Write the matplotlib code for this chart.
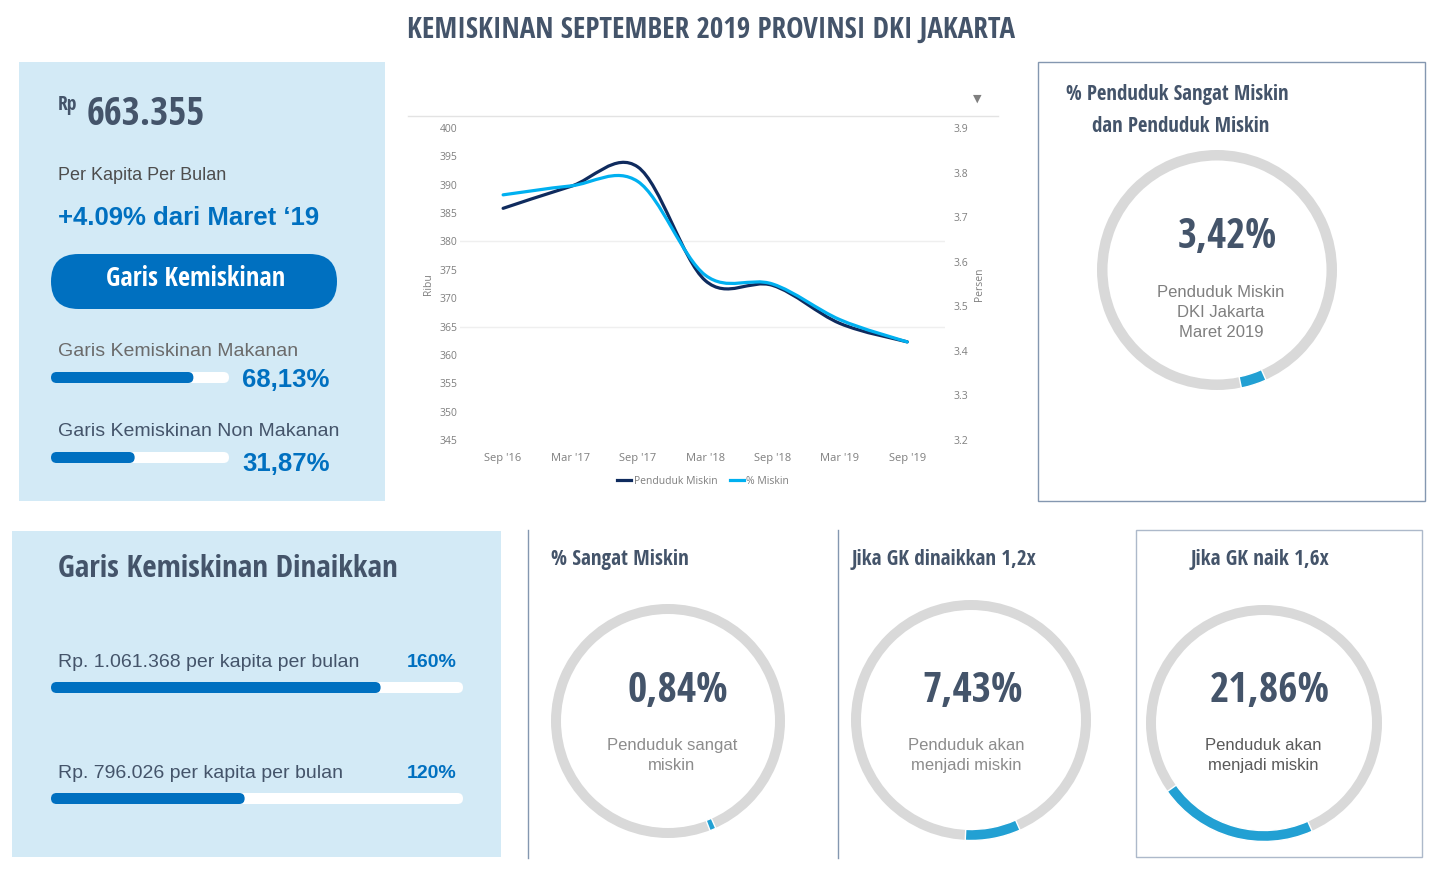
import numpy as np
import matplotlib
matplotlib.use("Agg")
import matplotlib.pyplot as plt
from matplotlib.patches import Rectangle, FancyBboxPatch, Wedge, PathPatch
from matplotlib.path import Path
from matplotlib.lines import Line2D
from matplotlib import font_manager

# ---- data ----
periode = ["Sep '16", "Mar '17", "Sep '17", "Mar '18", "Sep '18", "Mar '19", "Sep '19"]
penduduk_miskin = [385.84, 389.69, 393.13, 373.12, 372.26, 365.55, 362.30]   # ribu
persen_miskin = [3.75, 3.77, 3.78, 3.57, 3.55, 3.47, 3.42]

garis_kemiskinan = "663.355"
perubahan = "+4.09% dari Maret \u201819"

komponen_label = ["Garis Kemiskinan Makanan", "Garis Kemiskinan Non Makanan"]
komponen_persen = [68.13, 31.87]
komponen_isi = [0.80, 0.47]

dinaikkan_label = ["Rp. 1.061.368 per kapita per bulan", "Rp. 796.026 per kapita per bulan"]
dinaikkan_persen = [160, 120]
dinaikkan_isi = [0.80, 0.47]

ring_judul = ["% Sangat Miskin", "Jika GK dinaikkan 1,2x", "Jika GK naik 1,6x"]
ring_nilai = [3.42, 0.84, 7.43, 21.86]
ring_teks = [["Penduduk Miskin", "DKI Jakarta", "Maret 2019"],
             ["Penduduk sangat", "miskin"],
             ["Penduduk akan", "menjadi miskin"],
             ["Penduduk akan", "menjadi miskin"]]

# ---- style ----
W, H = 1446, 872
DARK = "#44546a"
BLUE = "#0070c0"
PANEL = "#d3eaf6"
RING_GRAY = "#d9d9d9"
RING_BLUE = "#22a0d3"
NAVY = "#0f2b5e"
CYAN = "#00b0f0"

names = {f.name for f in font_manager.fontManager.ttflist}
NARROW = dict(family="DejaVu Sans", stretch="condensed")
for nm in ["Open Sans Condensed", "Roboto Condensed", "IBM Plex Sans Condensed"]:
    if nm in names:
        NARROW = dict(family=nm)
        break
plt.rcParams["font.family"] = ["Liberation Sans", "DejaVu Sans"]


def fmt(v):
    return f"{v:.2f}".replace(".", ",") + "%"


fig = plt.figure(figsize=(W / 100, H / 100), dpi=100)
bg = fig.add_axes([0, 0, 1, 1])
bg.set_xlim(0, W)
bg.set_ylim(H, 0)
bg.axis("off")


def teks(x, y, s, size, color=DARK, weight="normal", ha="left", narrow=False, **kw):
    opts = dict(NARROW) if narrow else {}
    bg.text(x, y, s, fontsize=size, color=color, fontweight=weight, ha=ha,
            va="baseline", **opts, **kw)


def batang(x0, y0, w, h, isi):
    gaya = f"round,pad=0,rounding_size={h / 2}"
    bg.add_patch(FancyBboxPatch((x0, y0), w, h, boxstyle=gaya, fc="white", ec="none"))
    bg.add_patch(FancyBboxPatch((x0, y0), w * isi, h, boxstyle=gaya, fc=BLUE, ec="none"))


def cincin(cx, cy, r, w, nilai):
    bg.add_patch(Wedge((cx, cy), r, 0, 360, width=w, fc=RING_GRAY, ec="none"))
    a0 = 66
    bg.add_patch(Wedge((cx, cy), r + 0.5, a0, a0 + nilai * 3.6, width=w + 1,
                       fc=RING_BLUE, ec="white", lw=1))


# ---- title ----
teks(711, 38, "KEMISKINAN SEPTEMBER 2019 PROVINSI DKI JAKARTA", 21, weight="bold",
     ha="center", narrow=True)

# ---- top left panel ----
bg.add_patch(Rectangle((19, 62), 366, 439, fc=PANEL, ec="none"))
teks(58, 110, "Rp", 14, weight="bold", narrow=True)
teks(87, 125, garis_kemiskinan, 28, weight="bold", narrow=True)
teks(58, 180, "Per Kapita Per Bulan", 13, color="#4d4d4d")
teks(58, 225, perubahan, 18.5, color=BLUE, weight="bold")
bg.add_patch(FancyBboxPatch((51, 254), 286, 55, boxstyle="round,pad=0,rounding_size=27.5",
                            fc=BLUE, ec="none"))
teks(196, 286, "Garis Kemiskinan", 19, color="white", weight="bold", ha="center", narrow=True)

label_y = [356, 436]
bar_y = [372, 452]
val_y = [387, 471]
warna_label = ["#6b6b6b", DARK]
for i in range(2):
    teks(58, label_y[i], komponen_label[i], 14, color=warna_label[i])
    batang(51, bar_y[i], 178, 11, komponen_isi[i])
    teks(242, val_y[i], fmt(komponen_persen[i]), 18.5, color=BLUE, weight="bold")

# ---- bottom left panel ----
bg.add_patch(Rectangle((12, 531), 489, 326, fc=PANEL, ec="none"))
teks(58, 577, "Garis Kemiskinan Dinaikkan", 22.3, weight="bold", narrow=True)
label_y = [667, 778]
bar_y = [682, 793]
for i in range(2):
    teks(58, label_y[i], dinaikkan_label[i], 14)
    teks(457, label_y[i], f"{dinaikkan_persen[i]}%", 14, color=BLUE, weight="bold", ha="right")
    batang(51, bar_y[i], 412, 11, dinaikkan_isi[i])

# ---- top right panel ----
bg.add_patch(Rectangle((1038, 62), 387, 439, fc="none", ec="#8497b0", lw=1))
teks(1177, 100, "% Penduduk Sangat Miskin", 15, weight="bold", ha="center", narrow=True)
teks(1181, 132, "dan Penduduk Miskin", 15, weight="bold", ha="center", narrow=True)
cincin(1217, 270, 120, 10.5, ring_nilai[0])
teks(1227, 248, fmt(ring_nilai[0]), 29.5, weight="bold", ha="center", narrow=True)
for j, s in enumerate(ring_teks[0]):
    teks(1221, 297 + 20 * j, s, 12, color="#7f7f7f", ha="center")

# ---- bottom ring panels ----
bg.plot([528, 528], [530, 858], color="#8497b0", lw=1)
bg.plot([838, 838], [530, 858], color="#8497b0", lw=1)
bg.add_patch(Rectangle((1136, 530), 286, 327, fc="none", ec="#adb9ca", lw=1))

judul_x = [551, 852, 1260]
judul_ha = ["left", "left", "center"]
pusat = [(668, 721, 117), (971, 720, 120), (1264, 723, 118)]
angka_x = [678, 973, 1270]
sub_x = [672, 966, 1263]
sub_warna = ["#8c8c8c", "#8c8c8c", "#595959"]
for k in range(3):
    teks(judul_x[k], 565, ring_judul[k], 15.2, weight="bold", ha=judul_ha[k], narrow=True)
    cx, cy, r = pusat[k]
    cincin(cx, cy, r, 10, ring_nilai[k + 1])
    teks(angka_x[k], 702, fmt(ring_nilai[k + 1]), 30, weight="bold", ha="center", narrow=True)
    for j, s in enumerate(ring_teks[k + 1]):
        teks(sub_x[k], 750 + 20 * j, s, 12, color=sub_warna[k], ha="center")

# ---- line chart ----
bg.plot([408, 998], [116, 116], color="#e3e3e3", lw=1)
bg.text(977, 99, "\u25bc", fontsize=8, color="#7f7f7f", ha="center", va="center",
        family="DejaVu Sans")

ax = fig.add_axes([460 / W, 1 - 440 / H, 485 / W, 312 / H])
ax.set_facecolor("none")
ax2 = ax.twinx()
for a in (ax, ax2):
    for sp in a.spines.values():
        sp.set_visible(False)
    a.tick_params(length=0, labelsize=7.5, labelcolor="#7f7f7f")

x = np.arange(len(periode))
ax.set_xlim(-0.64, 6.56)
ax.set_ylim(345, 400)
ax.set_yticks(np.arange(345, 401, 5))
ax2.set_ylim(3.2, 3.9)
ax2.set_yticks(np.arange(3.2, 3.91, 0.1))
ax2.set_yticklabels([f"{v:.1f}" for v in np.arange(3.2, 3.91, 0.1)])
ax.set_xticks(x)
ax.set_xticklabels(periode, fontsize=8, family="Open Sans")
ax.tick_params(axis="x", pad=9)
ax.tick_params(axis="y", pad=2)
ax2.tick_params(axis="y", pad=6)
for lab in ax.get_yticklabels() + ax2.get_yticklabels():
    lab.set_family("Open Sans")
ax.set_ylabel("Ribu", fontsize=7.5, color="#7f7f7f", family="Open Sans", labelpad=4)
ax2.set_ylabel("Persen", fontsize=7.5, color="#7f7f7f", family="Open Sans", labelpad=4)
for g in (380, 365):
    ax.axhline(g, color="#efefef", lw=1, zorder=0)


def kurva(xs, ys):
    xs = np.asarray(xs, float)
    ys = np.asarray(ys, float)
    n = len(xs)
    verts = [(xs[0], ys[0])]
    codes = [Path.MOVETO]
    for i in range(n - 1):
        xa, ya = (xs[i - 1], ys[i - 1]) if i > 0 else (xs[i], ys[i])
        xb, yb = (xs[i + 2], ys[i + 2]) if i + 2 < n else (xs[i + 1], ys[i + 1])
        c1 = (xs[i] + (xs[i + 1] - xa) / 6, ys[i] + (ys[i + 1] - ya) / 6)
        c2 = (xs[i + 1] - (xb - xs[i]) / 6, ys[i + 1] - (yb - ys[i]) / 6)
        verts += [c1, c2, (xs[i + 1], ys[i + 1])]
        codes += [Path.CURVE4] * 3
    return Path(verts, codes)


ax.add_patch(PathPatch(kurva(x, penduduk_miskin), fill=False, ec=NAVY, lw=2.3, capstyle="round"))
ax2.add_patch(PathPatch(kurva(x, persen_miskin), fill=False, ec=CYAN, lw=2.3, capstyle="round"))

handles = [Line2D([], [], color=NAVY, lw=2.3), Line2D([], [], color=CYAN, lw=2.3)]
fig.legend(handles, ["Penduduk Miskin", "% Miskin"], loc="center",
           bbox_to_anchor=(703 / W, 1 - 481 / H), ncol=2, frameon=False,
           prop={"family": "Open Sans", "size": 7.5}, labelcolor="#7f7f7f",
           handlelength=1.4, handletextpad=0.2, columnspacing=1.2)

fig.savefig("out.png", dpi=100, facecolor="white")
